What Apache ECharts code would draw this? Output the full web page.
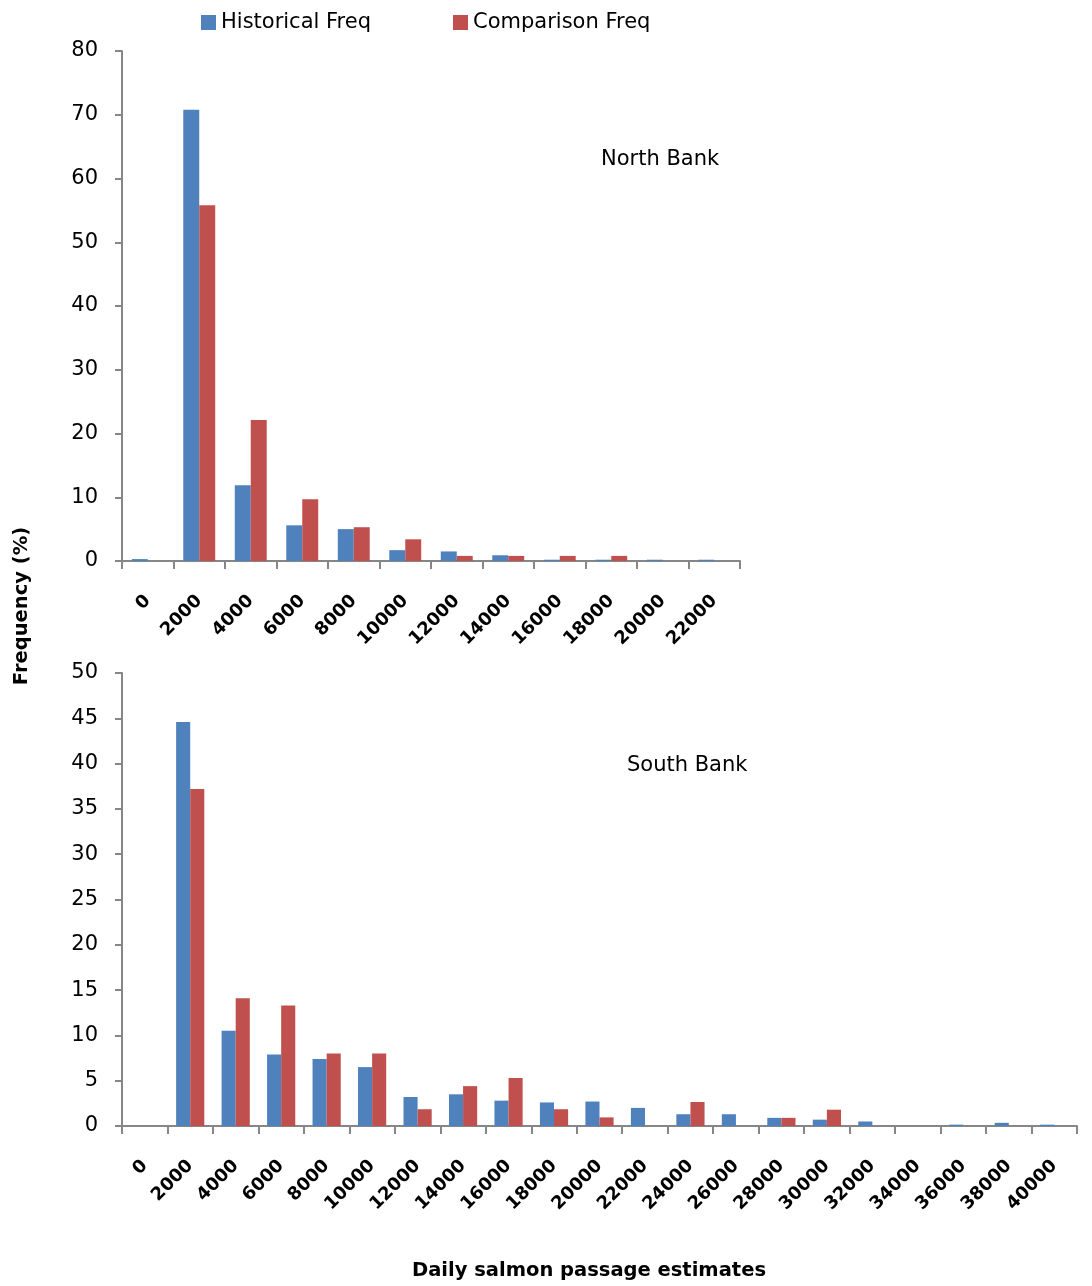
<!DOCTYPE html>
<html>
<head>
<meta charset="utf-8">
<script src="https://cdn.jsdelivr.net/npm/echarts@6/dist/echarts.min.js"></script>
<style>
html, body { margin: 0; padding: 0; background: #fff; }
#main { width: 1092px; height: 1286px; }
</style>
</head>
<body>
<div id="main"></div>
<script>
// North Bank
var northCats = ['0', '2000', '4000', '6000', '8000', '10000', '12000', '14000', '16000', '18000', '20000', '22000'];
var northHist = [0.3, 70.8, 11.9, 5.6, 5.0, 1.7, 1.5, 0.9, 0.2, 0.2, 0.2, 0.2];
var northComp = [0, 55.8, 22.1, 9.7, 5.3, 3.4, 0.8, 0.8, 0.8, 0.8, 0, 0];

// South Bank
var southCats = ['0', '2000', '4000', '6000', '8000', '10000', '12000', '14000', '16000', '18000', '20000',
    '22000', '24000', '26000', '28000', '30000', '32000', '34000', '36000', '38000', '40000'];
var southHist = [0, 44.6, 10.5, 7.9, 7.4, 6.5, 3.2, 3.5, 2.8, 2.6, 2.7, 2.0, 1.3, 1.3, 0.9, 0.7, 0.5, 0, 0.15, 0.35, 0.15];
var southComp = [0, 37.2, 14.1, 13.3, 8.0, 8.0, 1.85, 4.4, 5.3, 1.85, 0.95, 0, 2.65, 0, 0.9, 1.8, 0, 0, 0, 0, 0];

var blue = '#4F81BD';
var red = '#C0504D';
var axisGray = '#868686';
var font = '"DejaVu Sans", sans-serif';

var myChart = echarts.init(document.getElementById('main'));

function xAxis(idx, cats) {
    return {
        type: 'category',
        gridIndex: idx,
        data: cats,
        axisLine: { lineStyle: { color: axisGray, width: 2 } },
        axisTick: { show: true, length: 8, lineStyle: { color: axisGray, width: 2 } },
        axisLabel: {
            interval: 0,
            rotate: 45,
            margin: 37,
            color: '#000',
            fontWeight: 'bold',
            fontSize: 18,
            fontFamily: font
        },
        splitLine: { show: false }
    };
}

function yAxis(idx, max, step) {
    return {
        type: 'value',
        gridIndex: idx,
        min: 0,
        max: max,
        interval: step,
        axisLine: { show: true, lineStyle: { color: axisGray, width: 2 } },
        axisTick: { show: true, length: 7, lineStyle: { color: axisGray, width: 2 } },
        axisLabel: { color: '#000', fontSize: 21, margin: 24, fontFamily: font },
        splitLine: { show: false }
    };
}

option = {
    animation: false,
    backgroundColor: '#fff',
    textStyle: { fontFamily: font },
    legend: {
        top: 7,
        left: 196,
        itemWidth: 15,
        itemHeight: 15,
        itemGap: 82,
        icon: 'rect',
        textStyle: { fontSize: 21, color: '#000', fontFamily: font },
        data: ['Historical Freq', 'Comparison Freq']
    },
    title: [
        { text: 'North Bank', left: 596, top: 144, textStyle: { fontSize: 21, fontWeight: 'normal', color: '#000', fontFamily: font } },
        { text: 'South Bank', left: 622, top: 750, textStyle: { fontSize: 21, fontWeight: 'normal', color: '#000', fontFamily: font } }
    ],
    graphic: [
        {
            type: 'text',
            x: 22, y: 606,
            rotation: Math.PI / 2,
            style: {
                text: 'Frequency (%)',
                fill: '#000',
                font: 'bold 19.5px ' + font,
                align: 'center',
                verticalAlign: 'middle'
            }
        },
        {
            type: 'text',
            x: 589, y: 1271,
            style: {
                text: 'Daily salmon passage estimates',
                fill: '#000',
                font: 'bold 19.5px ' + font,
                align: 'center',
                verticalAlign: 'middle'
            }
        }
    ],
    grid: [
        { left: 122, right: 352, top: 51, bottom: 725 },
        { left: 122, right: 15, top: 673, bottom: 160 }
    ],
    xAxis: [xAxis(0, northCats), xAxis(1, southCats)],
    yAxis: [yAxis(0, 80, 10), yAxis(1, 50, 5)],
    series: [
        {
            name: 'Historical Freq', type: 'bar', xAxisIndex: 0, yAxisIndex: 0,
            data: northHist, barGap: '0%', barCategoryGap: '38%',
            itemStyle: { color: blue }
        },
        {
            name: 'Comparison Freq', type: 'bar', xAxisIndex: 0, yAxisIndex: 0,
            data: northComp, barGap: '0%', barCategoryGap: '38%',
            itemStyle: { color: red }
        },
        {
            name: 'Historical Freq', type: 'bar', xAxisIndex: 1, yAxisIndex: 1,
            data: southHist, barGap: '0%', barCategoryGap: '38%',
            itemStyle: { color: blue }
        },
        {
            name: 'Comparison Freq', type: 'bar', xAxisIndex: 1, yAxisIndex: 1,
            data: southComp, barGap: '0%', barCategoryGap: '38%',
            itemStyle: { color: red }
        }
    ]
};

myChart.setOption(option);
</script>
</body>
</html>
